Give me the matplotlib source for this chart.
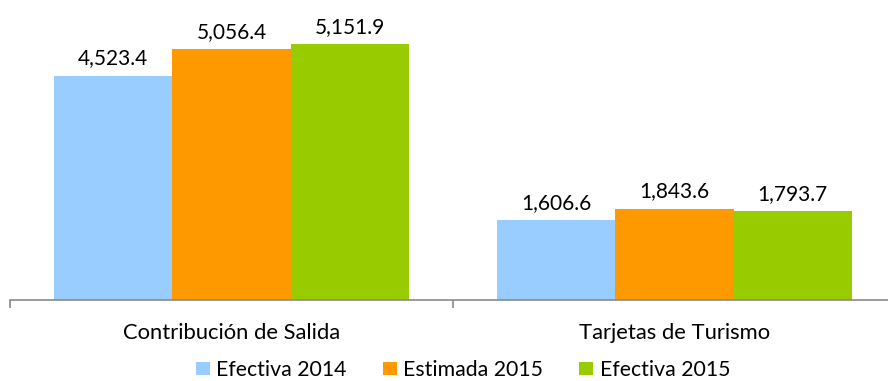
import matplotlib
matplotlib.use("Agg")
import matplotlib.pyplot as plt
import numpy as np
from matplotlib.patches import Patch

plt.rcParams['font.family'] = ['Lato', 'DejaVu Sans']

categories = ["Contribución de Salida", "Tarjetas de Turismo"]
series_names = ["Efectiva 2014", "Estimada 2015", "Efectiva 2015"]
efectiva_2014 = [4523.4, 1606.6]
estimada_2015 = [5056.4, 1843.6]
efectiva_2015 = [5151.9, 1793.7]
colors = ["#99CCFF", "#FF9900", "#99CC00"]

series = [efectiva_2014, estimada_2015, efectiva_2015]

W, H = 888, 381
fig = plt.figure(figsize=(W / 100, H / 100), dpi=100)
axis_y = 300
ax = fig.add_axes([10 / W, (H - axis_y) / H, 886 / W, 297 / H])

x = np.arange(len(categories))
width = 0.8 / 3
for i, (vals, col) in enumerate(zip(series, colors)):
    pos = x - width + i * width
    ax.bar(pos, vals, width=width, color=col, edgecolor='none')
    for p, v in zip(pos, vals):
        ax.annotate(f"{v:,.1f}", (p, v), xytext=(0, 8), textcoords='offset points',
                    ha='center', va='baseline', fontsize=15, color='#000000')

ax.set_xlim(-0.5, 1.5)
ax.set_ylim(0, 297 / 0.0496)
ax.set_yticks([])
for s in ['top', 'right', 'left']:
    ax.spines[s].set_visible(False)
ax.spines['bottom'].set_color('#8A8A8A')
ax.spines['bottom'].set_linewidth(1.2)

ax.set_xticks([-0.5, 0.5, 1.5])
ax.set_xticklabels([])
ax.tick_params(axis='x', direction='out', length=6, color='#8A8A8A', width=1.2)
for xi, c in zip(x, categories):
    ax.annotate(c, (xi, 0), xycoords=('data', 'axes fraction'),
                xytext=(0, -39 * 0.72), textcoords='offset points',
                ha='center', va='baseline', fontsize=15.8)

handles = [Patch(facecolor=c, edgecolor='none') for c in colors]
fig.legend(handles, series_names, loc='center', bbox_to_anchor=(463 / W, 1 - 370 / H),
           ncol=3, frameon=False, fontsize=15.3, handlelength=0.66, handleheight=0.62,
           handletextpad=0.3, columnspacing=1.7, borderpad=0)

fig.savefig("out.png", dpi=100)
